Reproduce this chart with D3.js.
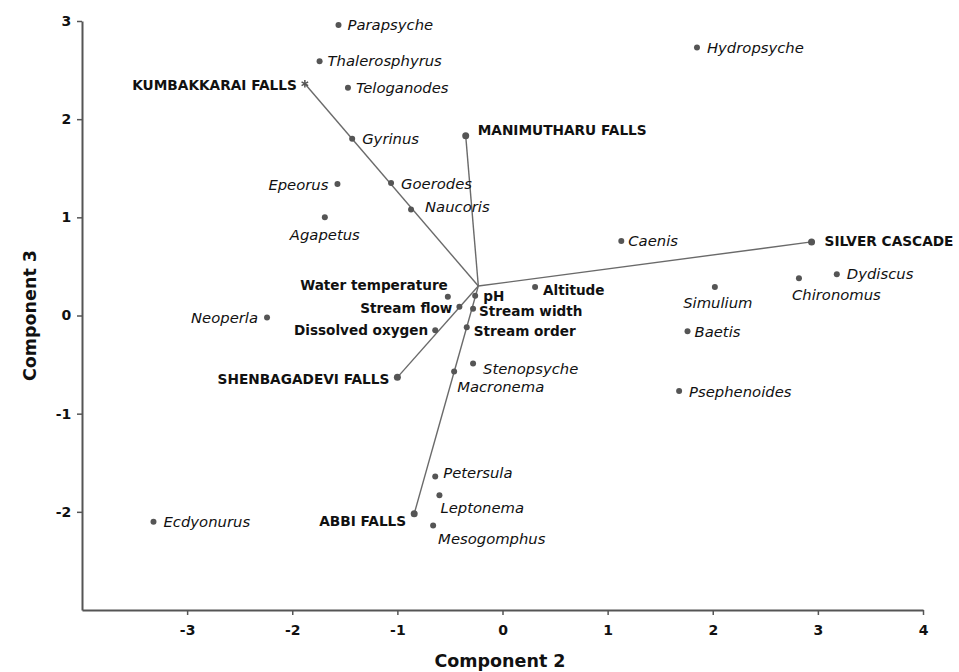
<!DOCTYPE html>
<html>
<head>
<meta charset="utf-8">
<script src="https://cdn.jsdelivr.net/npm/d3@7"></script>
<style>
  body { margin: 0; background: #fff; }
  svg { font-family: "DejaVu Sans", sans-serif; }
</style>
</head>
<body>
<svg id="chart" width="959" height="672"></svg>
<script>
// component scores
const hub = [-0.23, 0.30];

const sites = ["KUMBAKKARAI FALLS", "MANIMUTHARU FALLS", "SILVER CASCADE", "SHENBAGADEVI FALLS", "ABBI FALLS"];
const siteC2 = [-1.88, -0.35, 2.94, -1.00, -0.84];
const siteC3 = [2.36, 1.83, 0.75, -0.63, -2.02];

const variables = ["Water temperature", "pH", "Altitude", "Stream flow", "Stream width", "Dissolved oxygen", "Stream order"];
const varC2 = [-0.52, -0.26, 0.31, -0.41, -0.28, -0.64, -0.34];
const varC3 = [0.19, 0.20, 0.29, 0.09, 0.07, -0.15, -0.12];

const taxa = ["Parapsyche", "Thalerosphyrus", "Teloganodes", "Hydropsyche", "Gyrinus", "Epeorus", "Goerodes",
  "Naucoris", "Agapetus", "Caenis", "Dydiscus", "Chironomus", "Simulium", "Neoperla", "Baetis", "Stenopsyche",
  "Macronema", "Psephenoides", "Petersula", "Leptonema", "Mesogomphus", "Ecdyonurus"];
const taxaC2 = [-1.56, -1.74, -1.47, 1.85, -1.43, -1.57, -1.06, -0.87, -1.69, 1.13, 3.18, 2.82, 2.02, -2.24,
  1.76, -0.28, -0.46, 1.68, -0.64, -0.60, -0.66, -3.32];
const taxaC3 = [2.96, 2.59, 2.32, 2.73, 1.80, 1.34, 1.35, 1.08, 1.00, 0.76, 0.42, 0.38, 0.29, -0.02, -0.16,
  -0.49, -0.57, -0.77, -1.64, -1.83, -2.14, -2.10];

const xTicks = [-3, -2, -1, 0, 1, 2, 3, 4];
const yTicks = [-2, -1, 0, 1, 2, 3];

// where each label sits relative to its point
const place = {
  "KUMBAKKARAI FALLS": ["end", -8, 1], "MANIMUTHARU FALLS": ["start", 12, -6],
  "SILVER CASCADE": ["start", 13, -1], "SHENBAGADEVI FALLS": ["end", -8, 2], "ABBI FALLS": ["end", -8, 7],
  "Water temperature": ["end", 0, -12], "pH": ["start", 8, 0], "Altitude": ["start", 8, 3],
  "Stream flow": ["end", -7, 2], "Stream width": ["start", 6, 3], "Dissolved oxygen": ["end", -7, 0],
  "Stream order": ["start", 7, 4],
  "Parapsyche": ["start", 9, 0], "Thalerosphyrus": ["start", 8, 0], "Teloganodes": ["start", 8, 0],
  "Hydropsyche": ["start", 10, 0], "Gyrinus": ["start", 10, 0], "Epeorus": ["end", -9, 1],
  "Goerodes": ["start", 10, 1], "Naucoris": ["start", 14, -3], "Agapetus": ["middle", 0, 17],
  "Caenis": ["start", 7, 0], "Dydiscus": ["start", 10, 0], "Chironomus": ["start", -7, 17],
  "Simulium": ["middle", 3, 16], "Neoperla": ["end", -9, 0], "Baetis": ["start", 7, 1],
  "Stenopsyche": ["start", 10, 5], "Macronema": ["start", 3, 15], "Psephenoides": ["start", 10, 1],
  "Petersula": ["start", 8, -4], "Leptonema": ["start", 1, 13], "Mesogomphus": ["start", 5, 13],
  "Ecdyonurus": ["start", 10, 0]
};

const svg = d3.select("#chart");
const x = d3.scaleLinear().domain([-4, 4]).range([82, 923]);
const y = d3.scaleLinear().domain([-3, 3]).range([610, 21]);

const axisColor = "#555";

const gx = svg.append("g").attr("transform", `translate(0,${y(-3)})`)
  .call(d3.axisBottom(x).tickValues(xTicks).tickSize(5).tickSizeOuter(0).tickFormat(d => String(d)));
const gy = svg.append("g").attr("transform", `translate(${x(-4)},0)`)
  .call(d3.axisLeft(y).tickValues(yTicks).tickSize(5).tickSizeOuter(0).tickFormat(d => String(d)));

[gx, gy].forEach(g => {
  g.select(".domain").attr("stroke", axisColor).attr("stroke-width", 2);
  g.selectAll(".tick line").attr("stroke", axisColor).attr("stroke-width", 1.5);
  g.selectAll(".tick text").attr("fill", "#111").attr("font-size", 14).attr("font-weight", "bold")
    .attr("font-family", "DejaVu Sans, sans-serif");
});
gx.selectAll(".tick text").attr("dy", "1.2em");
gy.selectAll(".tick text").attr("dx", "-0.2em");

svg.append("text").attr("x", 500).attr("y", 667).attr("text-anchor", "middle")
  .attr("font-size", 17.5).attr("font-weight", "bold").attr("fill", "#111").text("Component 2");
svg.append("text").attr("transform", `translate(36,${y(0)}) rotate(-90)`).attr("text-anchor", "middle")
  .attr("font-size", 17.5).attr("font-weight", "bold").attr("fill", "#111").text("Component 3");

// site vectors from the hub
svg.append("g").selectAll("line").data(sites).join("line")
  .attr("x1", x(hub[0])).attr("y1", y(hub[1]))
  .attr("x2", (d, i) => x(siteC2[i])).attr("y2", (d, i) => y(siteC3[i]))
  .attr("stroke", "#6a6a6a").attr("stroke-width", 1.4);

function drawGroup(names, c2, c3, r, labelStyle) {
  const g = svg.append("g");
  g.selectAll("circle").data(names).join("circle")
    .attr("cx", (d, i) => x(c2[i])).attr("cy", (d, i) => y(c3[i]))
    .attr("r", r).attr("fill", "#555");
  g.selectAll("text").data(names).join("text")
    .attr("x", (d, i) => x(c2[i]) + place[d][1])
    .attr("y", (d, i) => y(c3[i]) + place[d][2])
    .attr("dy", "0.35em")
    .attr("text-anchor", d => place[d][0])
    .attr("fill", "#111")
    .attr("font-size", labelStyle.size)
    .attr("font-weight", labelStyle.weight)
    .attr("font-style", labelStyle.style)
    .text(d => d);
  return g;
}

drawGroup(taxa, taxaC2, taxaC3, 3, { size: 14.8, weight: "normal", style: "italic" });
drawGroup(variables, varC2, varC3, 3, { size: 13.6, weight: "bold", style: "normal" });
const sg = drawGroup(sites, siteC2, siteC3, 3.5, { size: 13.7, weight: "bold", style: "normal" });
// the first site is drawn with a star rather than a dot
sg.selectAll("circle").filter((d, i) => i === 0).remove();
svg.append("path").attr("d", d3.symbol(d3.symbolAsterisk, 40)())
  .attr("transform", `translate(${x(siteC2[0])},${y(siteC3[0])})`)
  .attr("stroke", "#555").attr("stroke-width", 1.5).attr("fill", "none");
</script>
</body>
</html>
